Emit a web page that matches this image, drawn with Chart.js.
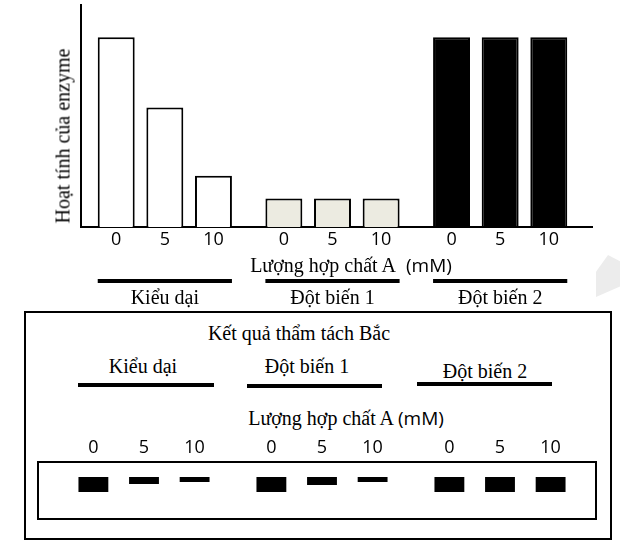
<!DOCTYPE html>
<html>
<head>
<meta charset="utf-8">
<script src="https://cdn.jsdelivr.net/npm/chart.js@4"></script>
<style>
body { margin: 0; background: #fff; }
#page { position: relative; width: 620px; height: 553px; overflow: hidden; font-family: "Liberation Serif", serif; font-size: 20px; color: #000; }
.abs { position: absolute; }
.txt { position: absolute; white-space: nowrap; transform: translate(-50%, -50%); }
.sans { font-family: "Open Sans", sans-serif; font-size: 19px; }
.bar { position: absolute; height: 4px; background: #000; }
</style>
</head>
<body>
<div id="page">
  <div class="abs" style="left:596px;top:255px;width:24px;height:42px;background:#ececec;clip-path:polygon(0 40%, 50% 0, 100% 15%, 100% 75%, 0 100%);"></div>
  <div class="abs" style="left:0;top:0;width:620px;height:310px;"><canvas id="canvas-activity"></canvas></div>
  <div class="abs" style="left:583px;top:226px;width:10px;height:2px;background:#000;"></div>
  <div class="txt" style="left:63px;top:136px;transform:translate(-50%,-50%) rotate(-90deg);">Hoạt tính của enzyme</div>
  <div class="txt" style="left:351px;top:265px;">Lượng hợp chất A&nbsp; <span class="sans">(mM)</span></div>

  <div class="abs" style="left:24px;top:311px;width:588px;height:229px;border:2px solid #000;box-sizing:border-box;"></div>
  <div class="txt" style="left:299px;top:333px;">Kết quả thẩm tách Bắc</div>
  <div class="txt" style="left:143px;top:366px;">Kiểu dại</div>
  <div class="txt" style="left:307px;top:366px;">Đột biến 1</div>
  <div class="txt" style="left:485px;top:371px;">Đột biến 2</div>
  <div class="bar" style="left:78px;top:383px;width:136px;"></div>
  <div class="bar" style="left:247px;top:384px;width:135px;"></div>
  <div class="bar" style="left:417px;top:382px;width:135px;"></div>
  <div class="txt" style="left:346px;top:418px;">Lượng hợp chất A <span class="sans">(mM)</span></div>
  <div class="abs" style="left:37px;top:461px;width:560px;height:59px;border:2px solid #000;box-sizing:border-box;"></div>
  <div class="abs" style="left:0;top:430px;width:620px;height:100px;"><canvas id="canvas-blot"></canvas></div>
</div>
<script>
var strains = ['Kiểu dại', 'Đột biến 1', 'Đột biến 2'];
var doses = ['0', '5', '10'];
// hoat tinh enzyme (% so voi kieu dai 0 mM)
var activity0 = [100, 15, 100];
var activity5 = [63, 15, 100];
var activity10 = [27, 15, 100];
// do day vach tham tach Bac
var band0 = [15, 15, 15];
var band5 = [7, 8, 15];
var band10 = [5, 5, 15];
var strainColors = ['#ffffff', '#ecebe1', '#000000'];

// ve nhan 0 / 5 / 10 duoi moi cot, va duong ke nhom
var doseLabels = {
    id: 'doseLabels',
    afterDraw: function (chart, args, opts) {
        var c = chart.ctx;
        c.save();
        c.font = '18px "Open Sans", sans-serif';
        c.fillStyle = '#000';
        c.textAlign = 'center';
        c.textBaseline = 'middle';
        chart.data.datasets.forEach(function (ds, i) {
            chart.getDatasetMeta(i).data.forEach(function (bar) {
                c.fillText(ds.label, bar.x, opts.y);
            });
        });
        if (opts.lineY) {
            var first = chart.getDatasetMeta(0).data;
            var last = chart.getDatasetMeta(chart.data.datasets.length - 1).data;
            first.forEach(function (bar, k) {
                var x1 = bar.x - bar.width / 2;
                var x2 = last[k].x + last[k].width / 2;
                c.fillRect(x1, opts.lineY - 2, x2 - x1, 4);
            });
        }
        c.restore();
    }
};

const ctx = document.getElementById('canvas-activity');
new Chart(ctx, {
    type: 'bar',
    data: {
        labels: strains,
        datasets: [
            { label: doses[0], data: activity0 },
            { label: doses[1], data: activity5 },
            { label: doses[2], data: activity10 }
        ].map(function (d) {
            d.backgroundColor = strainColors;
            d.borderColor = '#000';
            d.borderWidth = 2;
            d.categoryPercentage = 0.87;
            d.barPercentage = 0.76;
            return d;
        })
    },
    options: {
        responsive: true,
        maintainAspectRatio: false,
        animation: false,
        layout: { padding: { left: 81, right: 36, top: 5, bottom: 0 } },
        plugins: {
            legend: { display: false },
            tooltip: { enabled: false },
            doseLabels: { y: 240, lineY: 281 }
        },
        scales: {
            x: {
                grid: { display: false, drawTicks: false },
                border: { display: true, color: '#000', width: 2 },
                ticks: { padding: 60, color: '#000', font: { family: 'Liberation Serif', size: 20 } },
                afterFit: function (s) { s.height = 83; }
            },
            y: {
                min: 0,
                max: 117,
                grid: { display: false, drawTicks: false },
                border: { display: true, color: '#000', width: 2 },
                ticks: { display: false },
                afterFit: function (s) { s.width = 0; }
            }
        }
    },
    plugins: [doseLabels]
});

new Chart(document.getElementById('canvas-blot'), {
    type: 'bar',
    data: {
        labels: strains,
        datasets: [
            { label: doses[0], data: band0 },
            { label: doses[1], data: band5 },
            { label: doses[2], data: band10 }
        ].map(function (d) {
            d.backgroundColor = '#000';
            d.borderWidth = 0;
            d.categoryPercentage = 0.853;
            d.barPercentage = 0.59;
            return d;
        })
    },
    options: {
        responsive: true,
        maintainAspectRatio: false,
        animation: false,
        layout: { padding: { left: 55, right: 31, top: 47, bottom: 13 } },
        plugins: {
            legend: { display: false },
            tooltip: { enabled: false },
            doseLabels: { y: 18 }
        },
        scales: {
            x: { display: false },
            y: { display: false, reverse: true, min: 0, max: 40 }
        }
    },
    plugins: [doseLabels]
});
</script>
</body>
</html>
